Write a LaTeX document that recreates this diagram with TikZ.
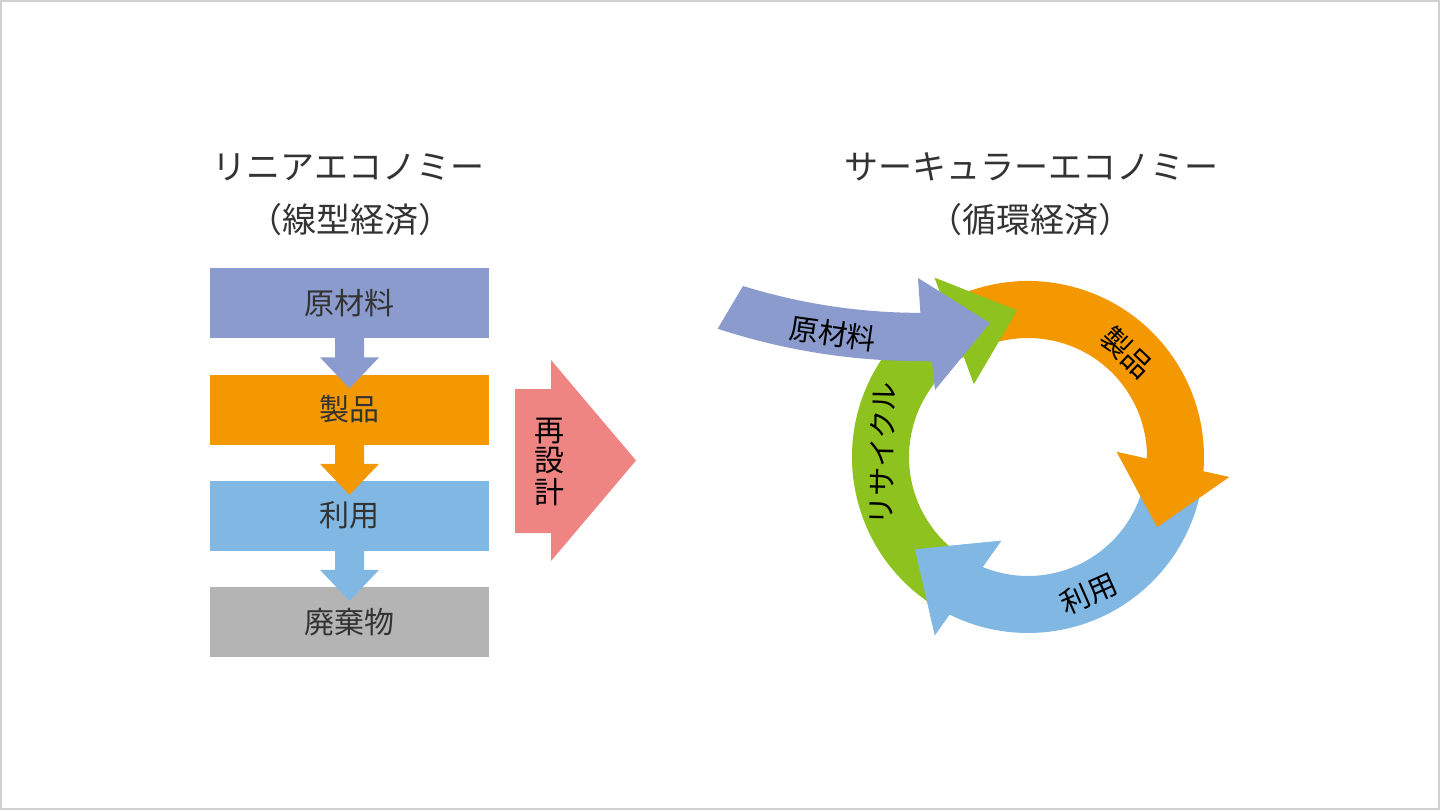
\documentclass[tikz,border=0pt]{standalone}
\usepackage{fontspec}
\newfontfamily\jpfont{Noto Sans CJK JP}
\usetikzlibrary{calc}
\definecolor{cPurple}{HTML}{8B9BCD}
\definecolor{cOrange}{HTML}{F39800}
\definecolor{cBlue}{HTML}{80B7E3}
\definecolor{cGray}{HTML}{B4B4B4}
\definecolor{cGreen}{HTML}{8DC21F}
\definecolor{cPink}{HTML}{EF8582}
\definecolor{cText}{HTML}{333333}
\definecolor{cBorder}{HTML}{D0D0D0}
\newcommand\blockdown[2]{%
  \fill[#2] ($(#1.south)+(-14.5,1)$) -- ($(#1.south)+(-14.5,-19)$) -- ($(#1.south)+(-29.5,-19)$)
    -- ($(#1.south)+(0,-50)$) -- ($(#1.south)+(29.5,-19)$) -- ($(#1.south)+(14.5,-19)$)
    -- ($(#1.south)+(14.5,1)$) -- cycle;}
\begin{document}
\begin{tikzpicture}[x=0.5pt,y=0.5pt,
  title/.style={font=\jpfont\fontsize{17pt}{20pt}\selectfont, text=cText, inner sep=0pt},
  boxnode/.style={minimum width=139.5pt, minimum height=35pt, inner sep=0pt},
  boxtext/.style={font=\jpfont\fontsize{15pt}{18pt}\selectfont, text=cText, inner sep=0pt},
  ringlabel/.style={font=\jpfont\fontsize{14.5pt}{16pt}\selectfont, text=black, inner sep=0pt},
  vlabel/.style={font=\jpfont\fontsize{15pt}{18pt}\selectfont, text=black, inner sep=0pt},
]
\useasboundingbox (0,0) rectangle (1440,810);
\fill[white] (0,0) rectangle (1440,810);
\draw[cBorder, line width=1pt] (1,1) rectangle (1439,809);

% titles
\node[title] (tl1) at (348.5,643) {リニアエコノミー};
\node[title] (tl2) at (350,590) {（線型経済）};
\node[title] (tr1) at (1031,643) {サーキュラーエコノミー};
\node[title] (tr2) at (1030,590) {（循環経済）};

% linear boxes
\node[boxnode, fill=cPurple] (b1) at (349.5,507) {};
\node[boxnode, fill=cOrange] (b2) at (349.5,400.5) {};
\node[boxnode, fill=cBlue]   (b3) at (349.5,294.5) {};
\node[boxnode, fill=cGray]   (b4) at (349.5,188) {};
\blockdown{b1}{cPurple}
\blockdown{b2}{cOrange}
\blockdown{b3}{cBlue}
\node[boxtext] (t1) at (b1) {原材料};
\node[boxtext] (t2) at (b2) {製品};
\node[boxtext] (t3) at (b3) {利用};
\node[boxtext] (t4) at (b4) {廃棄物};

% redesign arrow
\fill[cPink] (515,421) -- (551,421) -- (551,450) -- (636,349.5) -- (551,249) -- (551,277) -- (515,277) -- cycle;
\node[vlabel] (v1) at (549,379) {再};
\node[vlabel] (v2) at (549,349) {設};
\node[vlabel] (v3) at (549,318) {計};

% circular arrows
\begin{scope}[shift={(1028,353)}]
  \fill[cOrange] (112:176) arc[start angle=112, end angle=-4.7, radius=176] -- (-5.7:202) -- (-28.5:147) -- (3.2:89) -- (-0.8:119) arc[start angle=-0.8, end angle=112, radius=119] -- cycle;
  \fill[cBlue] (-10:176) arc[start angle=-10, end angle=-116.5, radius=176] -- (-117.6:201) -- (-140.8:146) -- (-107.8:88) -- (-112.4:119) arc[start angle=-112.4, end angle=-10, radius=119] -- cycle;
  \fill[cGreen] (240:176) arc[start angle=240, end angle=118.5, radius=176] -- (117.5:202) -- (94.3:147) -- (126.5:91) -- (122.6:119) arc[start angle=122.6, end angle=240, radius=119] -- cycle;
  % heads on top of the following tails
  \fill[cOrange] (-5.7:202) -- (-28.5:147) -- (3.2:89) -- cycle;
  \fill[cBlue] (-117.6:201) -- (-140.8:146) -- (-107.8:88) -- cycle;
  \fill[cGreen] (117.5:202) -- (94.3:147) -- (126.5:91) -- cycle;
  % labels
  \node[ringlabel, rotate=-43.5] (p1) at (46.5:144) {製品};
  \node[ringlabel, rotate=24] (u1) at (-66:150) {利用};
  \node[ringlabel, rotate=88.7] (c1) at (178.7:146) {リサイクル};
\end{scope}

% raw material input arrow
\fill[cPurple] (743,524) arc[start angle=252.8, end angle=270, radius=600] -- (918,532) -- (990,487) -- (935,420) -- (932,449) arc[start angle=271.06, end angle=251.8, radius=648] -- cycle;
\node[ringlabel, rotate=-8] (m1) at (833,476) {原材料};
\end{tikzpicture}
\end{document}
